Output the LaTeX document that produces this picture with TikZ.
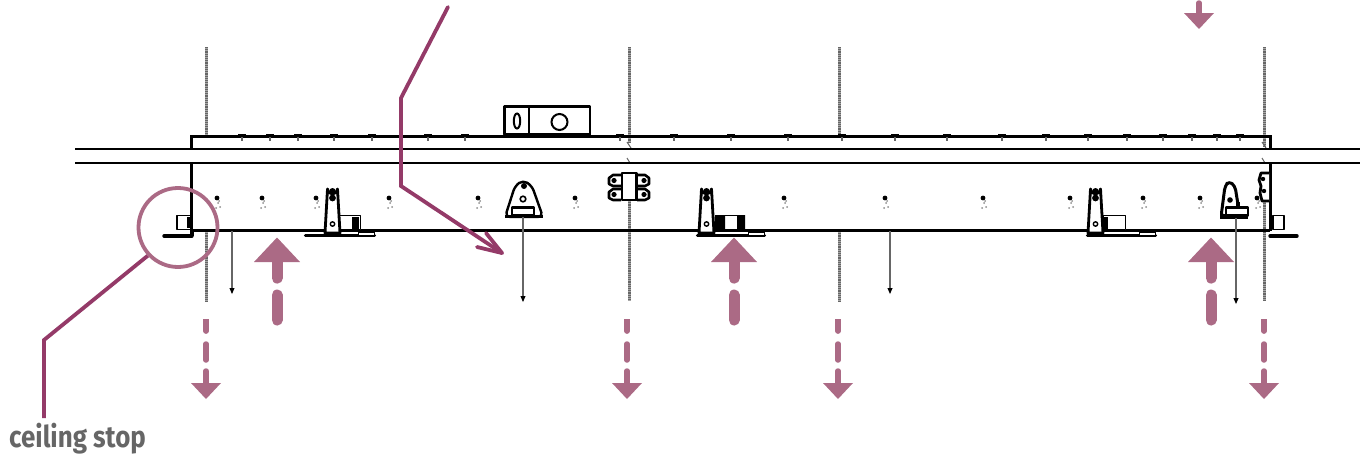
\documentclass[tikz,border=0pt]{standalone}
\usepackage{fontspec}
\setmainfont{Fira Sans}
\definecolor{callout}{HTML}{943A68}
\definecolor{force}{HTML}{AB6A85}
\definecolor{labelgrey}{HTML}{666666}
\tikzset{
  hatchbase/.style={draw=black!35,line width=3pt},
  hatch/.style={draw=black!60,line width=3pt,dash pattern=on 1.1pt off 1.1pt},
  rail/.style={draw=black,line width=2.5pt},
  heavy/.style={draw=black,line width=3pt},
  part/.style={draw=black,line width=2.2pt,fill=white,line join=round},
  dim/.style={draw=black!60,line width=1.5pt},
  tip/.style={fill=black},
  leader/.style={draw=callout,line width=3.8pt,line join=miter},
  ring/.style={draw=force,line width=3.8pt,circle,minimum size=79pt,inner sep=0pt},
  forcefill/.style={fill=force},
  forceline/.style={draw=force,line cap=round},
  speck/.style={fill=black},
  faint/.style={fill=black!45},
  lbl/.style={text=labelgrey,font=\bfseries\fontsize{30}{32}\selectfont,inner sep=0pt,anchor=base west}
}
\newcommand{\hatchline}[3]{%
  \draw[hatchbase] (#1,#2) -- (#1,#3);
  \draw[hatch] (#1,#2) -- (#1,#3);}
% fin bracket: x of fin, x of foot left, x of foot right, x roller l, x roller r
\newcommand{\finbr}[5]{%
  \begin{scope}[shift={(#1,0)}]
    \draw[heavy,line width=3.4pt,line cap=round] (#2,235.5) -- (#3,235.5);
    \draw[part,line width=1.6pt] (#3-16,232) rectangle (#3,236);
    \draw[part,line width=1.8pt] (#4,215.5) rectangle (#5,229.5);
    \draw[part,line width=2.8pt] (-7.5,233) -- (-5,189) arc[start angle=180,end angle=0,radius=5] -- (7.5,233) -- cycle;
    \fill (0,191) circle (3pt) (0,198) circle (3.4pt);
    \draw[line width=1.4pt,fill=white] (0,224) circle (2.2pt);
  \end{scope}}
\newcommand{\updart}[1]{%
  \fill[forcefill] (#1-23,262) -- (#1,237.5) -- (#1+23,262) -- cycle;
  \fill[forcefill] (#1-5.5,261) rectangle (#1+5.5,278);
  \draw[forceline,line width=11pt] (#1,278) -- (#1,278.1);
  \draw[forceline,line width=11pt] (#1,295) -- (#1,320);}
\newcommand{\downdart}[2]{%
  \fill[forcefill] (#1-15,#2+64) -- (#1+15,#2+64) -- (#1,#2+80) -- cycle;
  \draw[forceline,line width=5.5pt,line cap=butt] (#1,#2) -- (#1,#2+12);
  \draw[forceline,line width=5.5pt] (#1,#2+12) -- (#1,#2+12.1);
  \draw[forceline,line width=5.5pt] (#1,#2+25) -- (#1,#2+41);
  \draw[forceline,line width=5.5pt] (#1,#2+52) -- (#1,#2+66);}
\begin{document}
\begin{tikzpicture}[x=1pt,y=-1pt]
\useasboundingbox (0,0) rectangle (1360,455);
% hatched verticals
\foreach \x in {206,839}{
  \hatchline{\x}{47}{135}
  \hatchline{\x}{231}{302}}
\hatchline{629}{47}{142}
\hatchline{629}{200}{301}
\hatchline{1264}{47}{147}
\hatchline{1264}{201}{301}
\foreach \x in {629,1264}{
  \draw[black!60,line width=1pt] (\x-2,142) -- (\x+2,148);
  \draw[black!60,line width=1pt] (\x-2,158) -- (\x+1,163);}
% frame
\draw[rail,line width=3pt] (191,148) -- (191,136) -- (1270,136) -- (1270,148);
\draw[rail] (75,149) -- (1360,149);
\draw[rail] (75,163) -- (1360,163);
\draw[heavy] (191.5,163) -- (191.5,231);
\draw[heavy] (1270,163) -- (1270,231);
\draw[rail] (191,230.5) -- (1270,230.5);
\foreach \x in {242,270,298,334,372,428,465,620,674,731,788,842,895,947,1002,1046,1088,1127,1163,1192,1217,1240}{
  \fill (\x-4,133.5) rectangle (\x+4,136);
  \fill[black!60] (\x-.7,137) rectangle (\x+.7,141);}
% level block
\draw[part,line width=2.6pt] (504.5,106.5) rectangle (529,134.5);
\draw[part,line width=2.6pt] (529,106.5) rectangle (590,134.5);
\draw[line width=2pt] (517,121) ellipse (3.2pt and 7.5pt);
\draw[line width=2pt] (559.5,122) circle (8pt);
% screw specks
\foreach \x in {217,262,316,389,478,575,784,885,983,1070,1143,1200,1257}{
  \fill[speck] (\x,198) circle (2.4pt);
  \fill[faint] (\x+1,203) circle (1pt) (\x+3,207) circle (1pt) (\x-1,208) circle (1pt) (\x+2,201) circle (1pt);}
% left stop
\draw[part,line width=1.8pt] (177,215.5) rectangle (191,229.5);
\fill (187,217) rectangle (191,228);
\draw[heavy,line width=3.4pt,line cap=round] (164,236) -- (192,236);
\draw[line width=3.4pt] (192,231) -- (192,236);
% right stop
\draw[part,line width=1.8pt] (1273,215.5) rectangle (1284,229.5);
\draw[heavy,line width=3.4pt,line cap=round] (1270,236) -- (1297,236);
\draw[part,line width=2.8pt] (1269,173) -- (1261,173) -- (1259,180) -- (1261,186) -- (1260,193) -- (1262,201) -- (1269,201);
\fill (1263,179) circle (2.2pt) (1264,191) circle (2.2pt);
% fin brackets
\finbr{332.5}{-27}{42}{6}{28}
\finbr{706.5}{-9}{58}{9}{38}
\fill (716,215) rectangle (725,230) (737,215) rectangle (745,230);
\finbr{1095.5}{-8}{60}{8}{30}
\fill (352,217) rectangle (359,229);
\fill (1103,217) rectangle (1108,229);
% triangular bracket
\draw[part,line width=2.4pt,rounded corners=5pt] (505,217) -- (515,186) -- (523,180) -- (532,186) -- (543,217) -- cycle;
\draw[black,line width=3.2pt] (505,216.5) -- (543,216.5);
\fill (524,186) circle (3pt);
\draw[line width=1.6pt,fill=white] (523,199) circle (2.8pt);
\draw[part] (512,207.5) rectangle (534,215);
% half bracket
\draw[part,line width=3pt,rounded corners=4pt] (1221,217) -- (1225,186) -- (1229,181) -- (1235,186) -- (1240,217) -- cycle;
\fill (1230,200) circle (2.8pt);
\fill (1236,202) rectangle (1240,208);
\fill (1220,214) rectangle (1248,219);
\draw[part] (1226,207.5) rectangle (1248,215.5);
% hinge
\foreach \s in {-1,1}{\foreach \y in {175,189}{
  \draw[part,line width=2.6pt] (629+\s*8,\y) -- (629+\s*16,\y) -- (629+\s*20,\y+3) -- (629+\s*20,\y+9) -- (629+\s*16,\y+11) -- (629+\s*8,\y+11);
  \fill (629+\s*15,\y+5.5) circle (2.6pt);}}
\draw[part,line width=2.6pt] (622,173) rectangle (636.5,200);
% thin arrows
\foreach \x/\a/\b in {232/231/288,523/217/296,890/231/288,1236/218/298}{
  \draw[dim] (\x,\a) -- (\x,\b);
  \fill[tip] (\x-2.6,\b) -- (\x+2.6,\b) -- (\x,\b+6) -- cycle;}
% force arrows
\updart{277}\updart{734}\updart{1211}
\downdart{206}{319}\downdart{627}{319}\downdart{838}{319}\downdart{1264}{319}
\fill[forcefill] (1184,13) -- (1214,13) -- (1199,29) -- cycle;
\draw[forceline,line width=5.5pt] (1199,3) -- (1199,15);
% callouts
\node[ring] (stopring) at (178,227.5) {};
\node[lbl] (stoplabel) at (9,447) {\scalebox{.865}[1]{ceiling stop}};
\coordinate (stopbend) at (44,340);
\coordinate (stopend) at (44,418);
\draw[leader] (stopring.223) -- (stopbend) -- (stopend);
\coordinate (levelstart) at (448,7);
\coordinate (levelbendA) at (401,98);
\coordinate (levelbendB) at (401,186);
\coordinate (leveltip) at (502,253);
\draw[leader,line cap=round] (levelstart) -- (levelbendA) -- (levelbendB) -- (leveltip);
\draw[leader,line cap=round,line join=round] (477,247) -- (leveltip) -- (486,233);
\end{tikzpicture}
\end{document}
